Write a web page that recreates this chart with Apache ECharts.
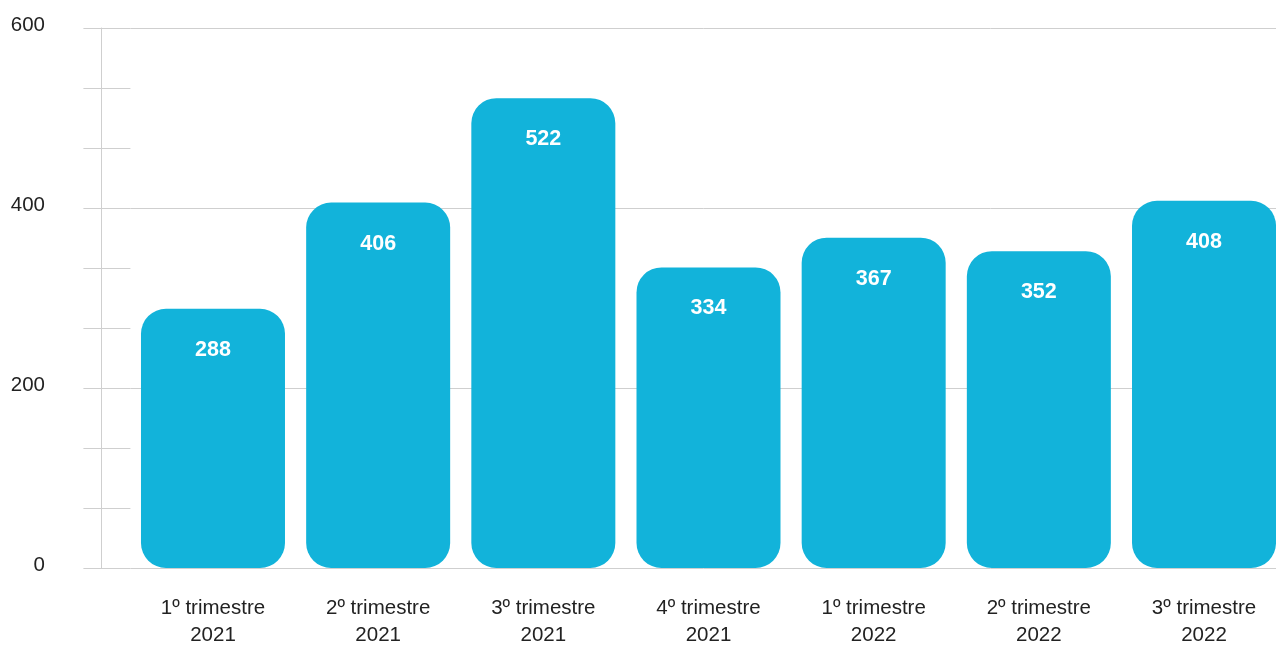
<!DOCTYPE html>
<html>
<head>
<meta charset="utf-8">
<script src="https://cdn.jsdelivr.net/npm/echarts@6/dist/echarts.min.js"></script>
<style>
html,body{margin:0;padding:0;background:#fff;overflow:hidden;}
#chart{width:1276px;height:646px;}
</style>
</head>
<body>
<div id="chart"></div>
<script>
const categories = ['1º trimestre\n2021', '2º trimestre\n2021', '3º trimestre\n2021', '4º trimestre\n2021', '1º trimestre\n2022', '2º trimestre\n2022', '3º trimestre\n2022'];
const values = [288, 406, 522, 334, 367, 352, 408];
const yMin = 0, yMax = 600, yInterval = 200;

const FONT = '"Liberation Sans", Arial, Helvetica, sans-serif';
const GRID_COLOR = '#cfcfcf';

const chart = echarts.init(document.getElementById('chart'));
chart.setOption({
  animation: false,
  backgroundColor: '#ffffff',
  grid: { left: 130.4, right: -10.6, top: 28, bottom: 78, containLabel: false, outerBoundsMode: 'none' },
  xAxis: {
    type: 'category',
    data: categories,
    axisLine: { show: false },
    axisTick: { show: false },
    axisLabel: {
      margin: 27,
      color: '#222',
      fontFamily: FONT,
      fontSize: 20.5,
      lineHeight: 27,
      align: 'center'
    }
  },
  yAxis: [
    {
      type: 'value',
      position: 'left',
      min: yMin, max: yMax, interval: yInterval,
      axisLine: { show: false },
      axisTick: { show: true, length: 47, lineStyle: { color: GRID_COLOR, width: 1 } },
      minorTick: { show: true, splitNumber: 3, length: 47, lineStyle: { color: GRID_COLOR, width: 1 } },
      splitLine: { show: true, lineStyle: { color: GRID_COLOR, width: 1 } },
      axisLabel: {
        margin: 85.4,
        color: '#222',
        fontFamily: FONT,
        fontSize: 20.5,
        align: 'right',
        verticalAlign: 'bottom',
        lineHeight: 5
      }
    },
    {
      type: 'value',
      position: 'left',
      offset: 29.4,
      min: yMin, max: yMax, interval: yInterval,
      axisLine: { show: true, lineStyle: { color: GRID_COLOR, width: 1 } },
      axisTick: { show: false },
      axisLabel: { show: false },
      splitLine: { show: false }
    }
  ],
  series: [{
    type: 'bar',
    data: values,
    yAxisIndex: 0,
    barWidth: 144,
    itemStyle: { color: '#12b3da', borderRadius: 25 },
    label: {
      show: true,
      position: 'insideTop',
      distance: 30,
      color: '#ffffff',
      fontFamily: FONT,
      fontWeight: 'bold',
      fontSize: 21.5
    }
  }]
});
</script>
</body>
</html>
